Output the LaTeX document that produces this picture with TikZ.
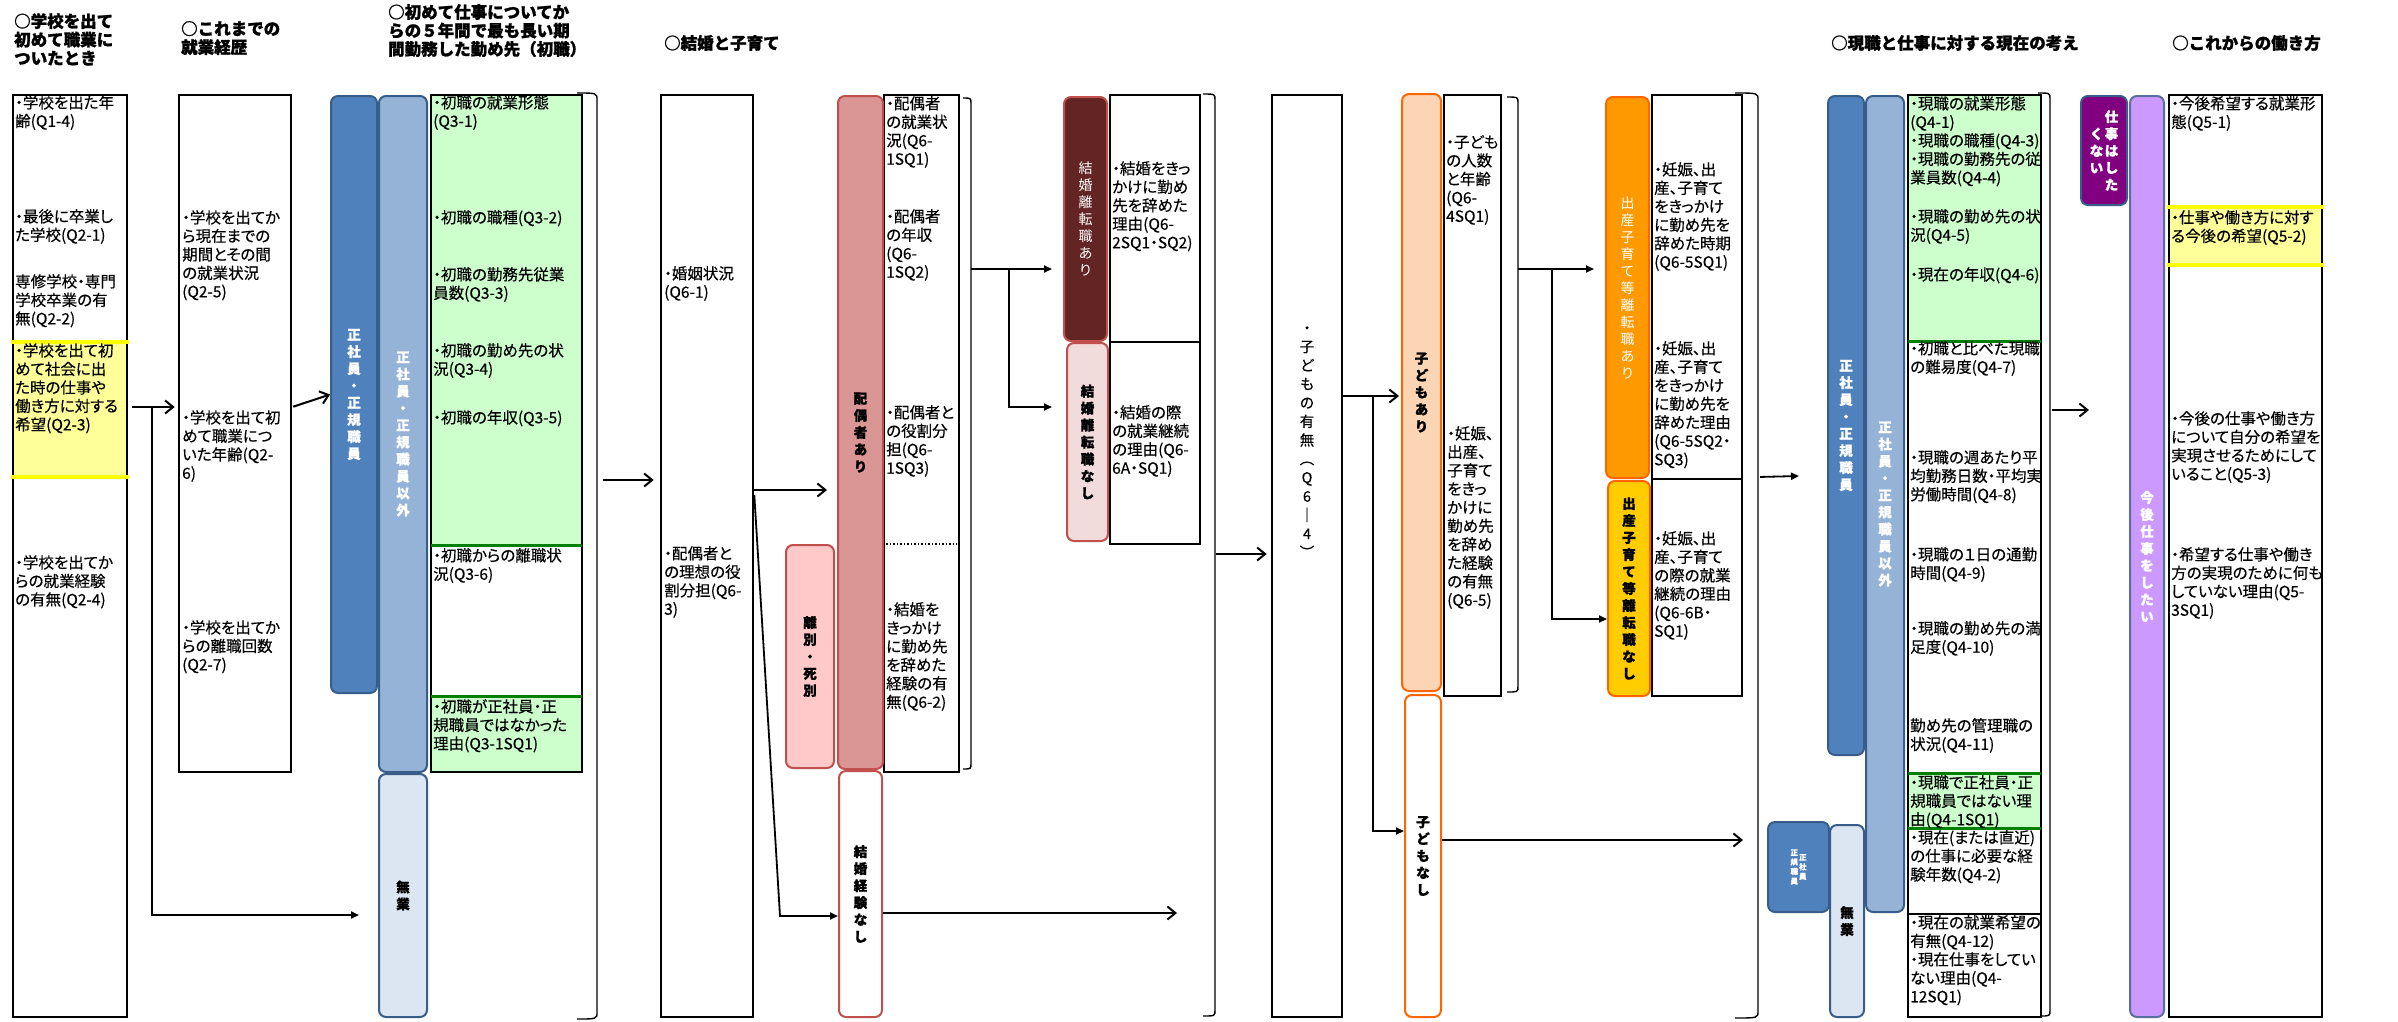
\documentclass[tikz,border=0pt]{standalone}
\usepackage{fontspec}
\setmainfont{Noto Sans CJK JP}[BoldFeatures={FakeBold=1.2}]
\newfontfamily\jpp{Noto Sans CJK JP}[RawFeature=+palt,FakeBold=0.3]
\usetikzlibrary{arrows.meta}
\definecolor{dblue}{HTML}{4F81BD}
\definecolor{bblue}{HTML}{385D8A}
\definecolor{lblue}{HTML}{95B3D7}
\definecolor{vlblue}{HTML}{DCE6F2}
\definecolor{rborder}{HTML}{C0504D}
\definecolor{pinkA}{HTML}{DA9694}
\definecolor{pinkR}{HTML}{FFC9C9}
\definecolor{maroon}{HTML}{632523}
\definecolor{pinkN}{HTML}{F2DCDB}
\definecolor{oborder}{HTML}{FF6600}
\definecolor{peach}{HTML}{FCD5B5}
\definecolor{orng}{HTML}{FF9900}
\definecolor{gold}{HTML}{FFCC00}
\definecolor{purp}{HTML}{800080}
\definecolor{lpurp}{HTML}{CC99FF}
\definecolor{pborder}{HTML}{5A6FA0}
\definecolor{gfill}{HTML}{CCFFCC}
\definecolor{gline}{HTML}{008000}
\definecolor{yfill}{HTML}{FFFF99}
\definecolor{yline}{HTML}{FFFF00}
\makeatletter
\newcommand\vt[2][17pt]{\vtop{\baselineskip=#1\lineskiplimit=-100pt\lineskip=0pt\vt@loop#2\vt@stop}}
\def\vt@stop{\vt@stop}
\def\vt@loop#1{\ifx#1\vt@stop\else\hbox to 1em{\hss#1\hss}\expandafter\vt@loop\fi}
\makeatother
\newcommand\vc[2][17pt]{$\vcenter{\hbox{\vt[#1]{#2}}}$}
\newcommand\FN[7]{%
 \pgfmathsetmacro\fnw{#5-#3}\pgfmathsetmacro\fnh{#6-#4}%
 \pgfmathsetmacro\fncx{(#3+#5)/2}\pgfmathsetmacro\fncy{(#4+#6)/2}%
 \node[#1, minimum width=\fnw pt, minimum height=\fnh pt, anchor=center] (#2) at (\fncx,\fncy) {#7};}
\tikzset{
 blk/.style={draw=black, line width=2.6pt, inner sep=0pt},
 lab/.style={draw, line width=2pt, rounded corners=7pt, inner sep=0pt, font=\bfseries\fontsize{13.5}{17}\selectfont},
 labw/.style={lab, text=white, font=\mdseries\fontsize{14}{17}\selectfont},
 txt/.style={inner sep=0pt, anchor=north west, align=left, font=\jpp\fontsize{15.5}{18.5}\selectfont},
 hd/.style={inner sep=0pt, align=left, font=\bfseries\fontsize{16.5}{18.5}\selectfont},
 brk/.style={line width=1.4pt},
 barb/.style={line width=2pt, -{Straight Barb[length=8pt,width=13pt]}},
 tri/.style={line width=1.8pt, -{Triangle[length=8pt,width=7pt]}},
 gl/.style={gline, line width=3pt},
 yl/.style={yline, line width=3.5pt},
}
\begin{document}
\begin{tikzpicture}[x=1pt,y=-1pt]
\fill[white] (0,0) rectangle (2398,1021);
\useasboundingbox (0,0) rectangle (2398,1021);

% headers
\node[hd, anchor=north west] (h1) at (14,13) {○学校を出て\\初めて職業に\\ついたとき};
\node[hd, anchor=north west] (h2) at (181,21) {○これまでの\\就業経歴};
\node[hd, anchor=north west] (h3) at (388,4) {○初めて仕事についてか\\らの５年間で最も長い期\\間勤務した勤め先（初職）};
\node[hd, anchor=west] (h4) at (664,43) {○結婚と子育て};
\node[hd, anchor=west] (h5) at (1831,43) {○現職と仕事に対する現在の考え};
\node[hd, anchor=west] (h6) at (2172,43) {○これからの働き方};

% fills
\fill[yfill] (13,342) rectangle (127,477);
\fill[gfill] (431,95) rectangle (582,545);
\fill[gfill] (431,696) rectangle (582,772);
\fill[gfill] (1908,95) rectangle (2041,341);
\fill[gfill] (1908,773) rectangle (2041,828);
\fill[yfill] (2169,207) rectangle (2322,265);

% boxes
\FN{blk}{box1}{13}{95}{127}{1017}{}
\FN{blk}{box2}{179}{95}{291}{772}{}
\FN{blk}{box3}{431}{95}{582}{772}{}
\FN{blk}{box4}{661}{95}{753}{1017}{}
\FN{blk}{box5}{884}{95}{959}{772}{}
\FN{blk}{box6a}{1110}{95}{1200}{342}{}
\FN{blk}{box6b}{1110}{342}{1200}{544}{}
\FN{blk}{box7}{1272}{95}{1342}{1017}{}
\FN{blk}{box8}{1444}{95}{1501}{696}{}
\FN{blk}{box9a}{1652}{95}{1742}{479}{}
\FN{blk}{box9b}{1652}{479}{1742}{696}{}
\FN{blk}{box10}{1908}{95}{2041}{1017}{}
\FN{blk}{box11}{2169}{95}{2322}{1017}{}

% coloured separators
\draw[yl] (11,342) -- (129,342); \draw[yl] (11,477) -- (129,477);
\draw[gl] (431,545) -- (582,545); \draw[gl] (431,696) -- (582,696);
\draw[gl] (1908,341) -- (2041,341); \draw[gl] (1908,773) -- (2041,773); \draw[gl] (1908,828) -- (2041,828);
\draw[yl] (2167,207) -- (2324,207); \draw[yl] (2167,265) -- (2324,265);
\draw[line width=1.2pt] (1908,914) -- (2041,914);
\draw[dotted, line width=1.5pt] (886,544) -- (957,544);

% labels
\FN{lab, draw=bblue, fill=dblue, text=white}{lab3a}{331}{96}{377}{693}{\vt{正社員・正規職員}}
\FN{lab, draw=bblue, fill=lblue, text=white}{lab3b}{379}{96}{427}{772}{\vt{正社員・正規職員以外}}
\FN{lab, draw=bblue, fill=vlblue}{lab3c}{379}{774}{427}{1017}{\vt{無業}}
\FN{lab, draw=rborder, fill=pinkA}{labA}{838}{96}{883}{769}{\vt{配偶者あり}}
\FN{lab, draw=rborder, fill=pinkR}{labR}{786}{545}{834}{768}{\vt{離別・死別}}
\FN{lab, draw=rborder, fill=white}{labN}{839}{771}{882}{1017}{\vt{結婚経験なし}}
\FN{labw, draw=rborder, fill=maroon}{labMA}{1064}{97}{1107}{341}{\vt{結婚離転職あり}}
\FN{lab, draw=rborder, fill=pinkN}{labMN}{1067}{343}{1108}{541}{\vt{結婚離転職なし}}
\FN{lab, draw=oborder, fill=peach}{labKA}{1402}{94}{1441}{691}{\vt{子どもあり}}
\FN{lab, draw=oborder, fill=white}{labKN}{1405}{695}{1441}{1017}{\vt{子どもなし}}
\FN{labw, draw=oborder, fill=orng}{labBA}{1606}{97}{1649}{478}{\vt{出産子育て等離転職あり}}
\FN{lab, draw=oborder, fill=gold}{labBN}{1608}{481}{1650}{696}{\vt{出産子育て等離転職なし}}
\FN{lab, draw=bblue, fill=dblue, text=white}{lab10a}{1828}{96}{1864}{755}{\vt{正社員・正規職員}}
\FN{lab, draw=bblue, fill=lblue, text=white}{lab10b}{1866}{96}{1904}{912}{\vt{正社員・正規職員以外}}
\FN{lab, draw=bblue, fill=dblue, text=white, font=\bfseries\fontsize{7.5}{9.5}\selectfont}{lab10s}{1768}{822}{1829}{912}{\hbox{\vc[9.5pt]{正規職員}\kern1pt\vc[9.5pt]{正社員}}}
\FN{lab, draw=bblue, fill=vlblue}{lab10c}{1830}{825}{1864}{1017}{\vt{無業}}
\FN{lab, draw=bblue, fill=purp, text=white}{lab11a}{2081}{96}{2127}{205}{\hbox{\vc{くない}\kern1.5pt\vc{仕事はした}}}
\FN{lab, draw=pborder, fill=lpurp, text=white}{lab11b}{2130}{96}{2164}{1017}{\vt{今後仕事をしたい}}

% brackets
\draw[brk] (577,93) .. controls (597,93) .. (597,100) -- (597,1012) .. controls (597,1019) .. (577,1019);
\draw[brk] (963,98) .. controls (971,98) .. (971,104) -- (971,763) .. controls (971,769) .. (963,769);
\draw[brk] (1203,94) .. controls (1215,94) .. (1215,100) -- (1215,1010) .. controls (1215,1016) .. (1203,1016);
\draw[brk] (1507,97) .. controls (1518,97) .. (1518,103) -- (1518,686) .. controls (1518,692) .. (1507,692);
\draw[brk] (1735,93) .. controls (1758,93) .. (1758,100) -- (1758,1011) .. controls (1758,1018) .. (1735,1018);
\draw[brk] (2038,93) .. controls (2050,93) .. (2050,99) -- (2050,1010) .. controls (2050,1016) .. (2040,1016);

% texts col1
\node[txt] (t1a) at (15,95) {・学校を出た年\\齢(Q1-4)};
\node[txt] (t1b) at (15,209) {・最後に卒業し\\た学校(Q2-1)};
\node[txt] (t1c) at (15,274) {専修学校・専門\\学校卒業の有\\無(Q2-2)};
\node[txt] (t1d) at (15,343) {・学校を出て初\\めて社会に出\\た時の仕事や\\働き方に対する\\希望(Q2-3)};
\node[txt] (t1e) at (15,555) {・学校を出てか\\らの就業経験\\の有無(Q2-4)};
% col2
\node[txt] (t2a) at (182,210) {・学校を出てか\\ら現在までの\\期間とその間\\の就業状況\\(Q2-5)};
\node[txt] (t2b) at (182,410) {・学校を出て初\\めて職業につ\\いた年齢(Q2-\\6)};
\node[txt] (t2c) at (182,620) {・学校を出てか\\らの離職回数\\(Q2-7)};
% col3
\node[txt] (t3a) at (433,95) {・初職の就業形態\\(Q3-1)};
\node[txt] (t3b) at (433,210) {・初職の職種(Q3-2)};
\node[txt] (t3c) at (433,267) {・初職の勤務先従業\\員数(Q3-3)};
\node[txt] (t3d) at (433,343) {・初職の勤め先の状\\況(Q3-4)};
\node[txt] (t3e) at (433,410) {・初職の年収(Q3-5)};
\node[txt] (t3f) at (433,548) {・初職からの離職状\\況(Q3-6)};
\node[txt] (t3g) at (433,699) {・初職が正社員・正\\規職員ではなかった\\理由(Q3-1SQ1)};
% col4
\node[txt] (t4a) at (664,266) {・婚姻状況\\(Q6-1)};
\node[txt] (t4b) at (664,546) {・配偶者と\\の理想の役\\割分担(Q6-\\3)};
% box5
\node[txt] (t5a) at (886,96) {・配偶者\\の就業状\\況(Q6-\\1SQ1)};
\node[txt] (t5b) at (886,209) {・配偶者\\の年収\\(Q6-\\1SQ2)};
\node[txt] (t5c) at (886,405) {・配偶者と\\の役割分\\担(Q6-\\1SQ3)};
\node[txt] (t5d) at (886,602) {・結婚を\\きっかけ\\に勤め先\\を辞めた\\経験の有\\無(Q6-2)};
% box6
\node[txt] (t6a) at (1112,161) {・結婚をきっ\\かけに勤め\\先を辞めた\\理由(Q6-\\2SQ1・SQ2)};
\node[txt] (t6b) at (1112,405) {・結婚の際\\の就業継続\\の理由(Q6-\\6A・SQ1)};
% box7
\node[inner sep=0pt, font=\jpp\fontsize{14.5}{18}\selectfont] (t7) at (1307,442) {\vt[18.7pt]{・子どもの有無︵Q6｜4︶}};
% box8
\node[txt] (t8a) at (1446,135) {・子ども\\の人数\\と年齢\\(Q6-\\4SQ1)};
\node[txt] (t8b) at (1447,426) {・妊娠、\\出産、\\子育て\\をきっ\\かけに\\勤め先\\を辞め\\た経験\\の有無\\(Q6-5)};
% box9
\node[txt] (t9a) at (1654,162) {・妊娠、出\\産、子育て\\をきっかけ\\に勤め先を\\辞めた時期\\(Q6-5SQ1)};
\node[txt] (t9b) at (1654,341) {・妊娠、出\\産、子育て\\をきっかけ\\に勤め先を\\辞めた理由\\(Q6-5SQ2・\\SQ3)};
\node[txt] (t9c) at (1654,531) {・妊娠、出\\産、子育て\\の際の就業\\継続の理由\\(Q6-6B・\\SQ1)};
% box10
\node[txt] (t10a) at (1910,96) {・現職の就業形態\\(Q4-1)\\・現職の職種(Q4-3)\\・現職の勤務先の従\\業員数(Q4-4)};
\node[txt] (t10b) at (1910,209) {・現職の勤め先の状\\況(Q4-5)};
\node[txt] (t10c) at (1910,267) {・現在の年収(Q4-6)};
\node[txt] (t10d) at (1910,341) {・初職と比べた現職\\の難易度(Q4-7)};
\node[txt] (t10e) at (1910,450) {・現職の週あたり平\\均勤務日数・平均実\\労働時間(Q4-8)};
\node[txt] (t10f) at (1910,547) {・現職の１日の通勤\\時間(Q4-9)};
\node[txt] (t10g) at (1910,621) {・現職の勤め先の満\\足度(Q4-10)};
\node[txt] (t10h) at (1910,718) {勤め先の管理職の\\状況(Q4-11)};
\node[txt] (t10i) at (1910,775) {・現職で正社員・正\\規職員ではない理\\由(Q4-1SQ1)};
\node[txt] (t10j) at (1910,830) {・現在(または直近)\\の仕事に必要な経\\験年数(Q4-2)};
\node[txt] (t10k) at (1910,915) {・現在の就業希望の\\有無(Q4-12)\\・現在仕事をしてい\\ない理由(Q4-\\12SQ1)};
% box11
\node[txt] (t11a) at (2171,96) {・今後希望する就業形\\態(Q5-1)};
\node[txt] (t11b) at (2171,210) {・仕事や働き方に対す\\る今後の希望(Q5-2)};
\node[txt] (t11c) at (2171,411) {・今後の仕事や働き方\\について自分の希望を\\実現させるためにして\\いること(Q5-3)};
\node[txt] (t11d) at (2171,547) {・希望する仕事や働き\\方の実現のために何も\\していない理由(Q5-\\3SQ1)};

% connector coordinates
\coordinate (j1) at (152,407);
\coordinate (j2) at (152,915);
\coordinate (br3) at (597,480);
\coordinate (c4a) at (753,490);
\coordinate (c4b) at (753,495);
\coordinate (d1) at (780,916);
\coordinate (br5) at (971,269);
\coordinate (j5) at (1009,269);
\coordinate (j5b) at (1009,407);
\coordinate (e1) at (1177,913);
\coordinate (br6) at (1215,554);
\coordinate (c7) at (1342,396);
\coordinate (j7) at (1373,396);
\coordinate (j7b) at (1373,831);
\coordinate (br8) at (1518,269);
\coordinate (j8) at (1552,269);
\coordinate (j8b) at (1552,619);
\coordinate (e2) at (1743,840);
\coordinate (br9) at (1758,477);
\coordinate (e3) at (1799,476);
\coordinate (br10) at (2050,410);
\coordinate (e4) at (2089,410);

% connectors
\draw[barb, shorten <=4pt, shorten >=3pt] (box1.east |- j1) -- (box2.west |- j1);
\draw[tri, shorten >=19pt] (j1) -- (j2) -- (lab3c.west |- j2);
\draw[barb, shorten <=1pt] (box2.east |- j1) -- (lab3a.west);
\draw[barb, shorten <=6pt, shorten >=6pt] (br3) -- (box4.west |- br3);
\draw[barb, shorten >=10pt] (box4.east |- c4a) -- (labA.west |- c4a);
\draw[tri] (box4.east |- c4b) -- (d1) -- (labN.west |- d1);
\draw[tri, shorten >=11pt] (br5) -- (labMA.west |- br5);
\draw[tri, shorten >=14pt] (j5) -- (j5b) -- (labMN.west |- j5b);
\draw[barb] (labN.east |- e1) -- (e1);
\draw[barb, shorten <=1pt, shorten >=4pt] (br6) -- (box7.west |- br6);
\draw[barb, shorten >=2pt] (box7.east |- c7) -- (labKA.west |- c7);
\draw[tri] (j7) -- (j7b) -- (labKN.west |- j7b);
\draw[tri, shorten >=11pt] (br8) -- (labBA.west |- br8);
\draw[tri] (j8) -- (j8b) -- (labBN.west |- j8b);
\draw[barb] (labKN.east |- e2) -- (e2);
\draw[tri, shorten <=2pt] (br9) -- (e3);
\draw[barb, shorten <=2pt] (br10) -- (e4);
\end{tikzpicture}
\end{document}
